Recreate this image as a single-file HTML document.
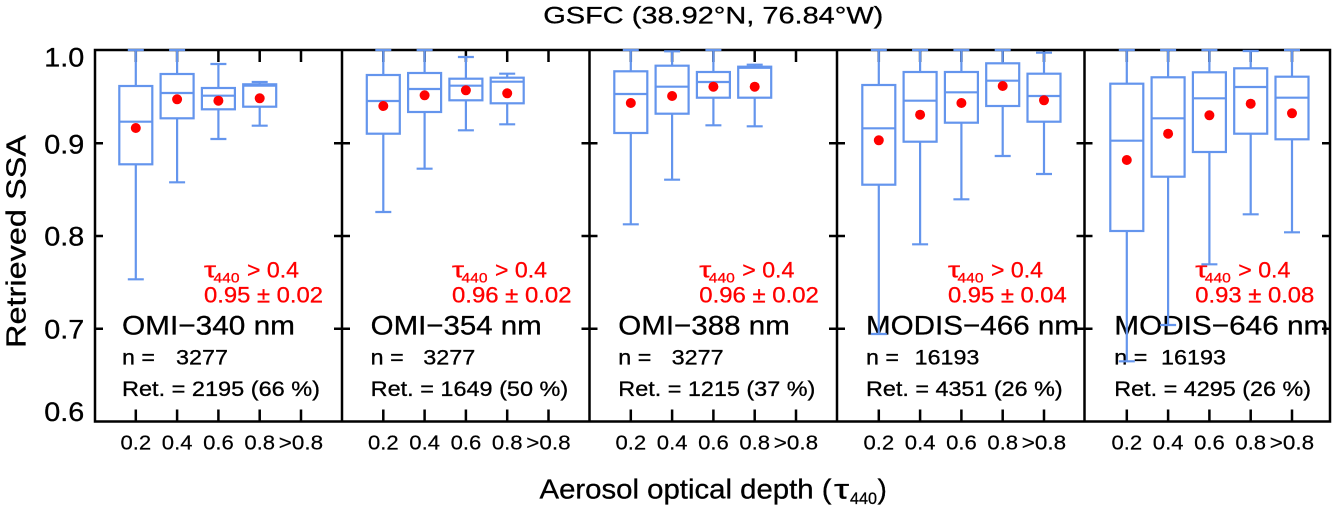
<!DOCTYPE html>
<html><head><meta charset="utf-8"><style>
html,body{margin:0;padding:0;background:#fff;}
svg{display:block;}
text{font-family:"Liberation Sans",Arial,sans-serif;}
</style></head><body>
<svg width="1336" height="512" viewBox="0 0 1336 512" xmlns="http://www.w3.org/2000/svg">
<rect width="1336" height="512" fill="#fff"/>
<!-- axes frame -->
<g stroke="#000" stroke-width="2.5" fill="none">
<rect x="95" y="50" width="1235" height="371.5"/>
<path d="M342 50V421.5M589.5 50V421.5M837 50V421.5M1084.5 50V421.5"/>
<path d="M95 143.3H103M95 236H103M95 328.7H103
M334 143.3H350M334 236H350M334 328.7H350
M581.5 143.3H597.5M581.5 236H597.5M581.5 328.7H597.5
M829 143.3H845M829 236H845M829 328.7H845
M1076.5 143.3H1092.5M1076.5 236H1092.5M1076.5 328.7H1092.5
M1322 143.3H1330M1322 236H1330M1322 328.7H1330"/>
<path d="M135.8 50V62M177.1 50V62M218.4 50V62M259.7 50V62M301 50V62
M383.3 50V62M424.6 50V62M465.9 50V62M507.2 50V62M548.5 50V62
M630.8 50V62M672.1 50V62M713.4 50V62M754.7 50V62M796 50V62
M878.8 50V62M920.1 50V62M961.4 50V62M1002.7 50V62M1044 50V62
M1126.8 50V62M1168.1 50V62M1209.4 50V62M1250.7 50V62M1292 50V62
M135.8 409.5V421.5M177.1 409.5V421.5M218.4 409.5V421.5M259.7 409.5V421.5M301 409.5V421.5
M383.3 409.5V421.5M424.6 409.5V421.5M465.9 409.5V421.5M507.2 409.5V421.5M548.5 409.5V421.5
M630.8 409.5V421.5M672.1 409.5V421.5M713.4 409.5V421.5M754.7 409.5V421.5M796 409.5V421.5
M878.8 409.5V421.5M920.1 409.5V421.5M961.4 409.5V421.5M1002.7 409.5V421.5M1044 409.5V421.5
M1126.8 409.5V421.5M1168.1 409.5V421.5M1209.4 409.5V421.5M1250.7 409.5V421.5M1292 409.5V421.5"/>
</g>

<!-- panel text -->
<g fill="#000" stroke="#000" stroke-width="0.3">
<text x="122" y="334.3" font-size="27" textLength="173" lengthAdjust="spacingAndGlyphs">OMI−340 nm</text>
<text x="370.7" y="334.3" font-size="27" textLength="171" lengthAdjust="spacingAndGlyphs">OMI−354 nm</text>
<text x="618.3" y="334.3" font-size="27" textLength="171.5" lengthAdjust="spacingAndGlyphs">OMI−388 nm</text>
<text x="866" y="334.3" font-size="27" textLength="213" lengthAdjust="spacingAndGlyphs">MODIS−466 nm</text>
<text x="1114.3" y="334.3" font-size="27" textLength="214" lengthAdjust="spacingAndGlyphs">MODIS−646 nm</text>

<text x="122" y="364.5" font-size="21" textLength="33" lengthAdjust="spacingAndGlyphs">n =</text>
<text x="176" y="364.5" font-size="21" textLength="52" lengthAdjust="spacingAndGlyphs">3277</text>
<text x="370.7" y="364.5" font-size="21" textLength="33" lengthAdjust="spacingAndGlyphs">n =</text>
<text x="423.3" y="364.5" font-size="21" textLength="52" lengthAdjust="spacingAndGlyphs">3277</text>
<text x="618.3" y="364.5" font-size="21" textLength="33" lengthAdjust="spacingAndGlyphs">n =</text>
<text x="671.7" y="364.5" font-size="21" textLength="52" lengthAdjust="spacingAndGlyphs">3277</text>
<text x="866" y="364.5" font-size="21" textLength="33" lengthAdjust="spacingAndGlyphs">n =</text>
<text x="914.7" y="364.5" font-size="21" textLength="64.7" lengthAdjust="spacingAndGlyphs">16193</text>
<text x="1114.3" y="364.5" font-size="21" textLength="33" lengthAdjust="spacingAndGlyphs">n =</text>
<text x="1161" y="364.5" font-size="21" textLength="65" lengthAdjust="spacingAndGlyphs">16193</text>

<text x="122" y="396" font-size="21" textLength="198" lengthAdjust="spacingAndGlyphs">Ret. = 2195 (66 %)</text>
<text x="370.7" y="396" font-size="21" textLength="197.5" lengthAdjust="spacingAndGlyphs">Ret. = 1649 (50 %)</text>
<text x="618.3" y="396" font-size="21" textLength="197" lengthAdjust="spacingAndGlyphs">Ret. = 1215 (37 %)</text>
<text x="866" y="396" font-size="21" textLength="196.7" lengthAdjust="spacingAndGlyphs">Ret. = 4351 (26 %)</text>
<text x="1114.3" y="396" font-size="21" textLength="196.7" lengthAdjust="spacingAndGlyphs">Ret. = 4295 (26 %)</text>
</g>

<!-- red annotations -->
<g fill="#ff0000" stroke="#ff0000" stroke-width="0.3">
<text x="204" y="277.5" font-size="22" textLength="12" lengthAdjust="spacingAndGlyphs">τ</text>
<text x="213.5" y="282.5" font-size="14" textLength="26" lengthAdjust="spacingAndGlyphs">440</text>
<text x="247" y="277.5" font-size="22" textLength="52" lengthAdjust="spacingAndGlyphs">&gt; 0.4</text>
<text x="204" y="302.5" font-size="22" textLength="119" lengthAdjust="spacingAndGlyphs">0.95 ± 0.02</text>

<text x="452" y="277.5" font-size="22" textLength="12" lengthAdjust="spacingAndGlyphs">τ</text>
<text x="461.5" y="282.5" font-size="14" textLength="26" lengthAdjust="spacingAndGlyphs">440</text>
<text x="495" y="277.5" font-size="22" textLength="52" lengthAdjust="spacingAndGlyphs">&gt; 0.4</text>
<text x="452" y="302.5" font-size="22" textLength="119.5" lengthAdjust="spacingAndGlyphs">0.96 ± 0.02</text>

<text x="699.3" y="277.5" font-size="22" textLength="12" lengthAdjust="spacingAndGlyphs">τ</text>
<text x="708.8" y="282.5" font-size="14" textLength="26" lengthAdjust="spacingAndGlyphs">440</text>
<text x="742.3" y="277.5" font-size="22" textLength="52" lengthAdjust="spacingAndGlyphs">&gt; 0.4</text>
<text x="699.3" y="302.5" font-size="22" textLength="119.5" lengthAdjust="spacingAndGlyphs">0.96 ± 0.02</text>

<text x="948" y="277.5" font-size="22" textLength="12" lengthAdjust="spacingAndGlyphs">τ</text>
<text x="957.5" y="282.5" font-size="14" textLength="26" lengthAdjust="spacingAndGlyphs">440</text>
<text x="991" y="277.5" font-size="22" textLength="52" lengthAdjust="spacingAndGlyphs">&gt; 0.4</text>
<text x="948" y="302.5" font-size="22" textLength="118.7" lengthAdjust="spacingAndGlyphs">0.95 ± 0.04</text>

<text x="1195.3" y="277.5" font-size="22" textLength="12" lengthAdjust="spacingAndGlyphs">τ</text>
<text x="1204.8" y="282.5" font-size="14" textLength="26" lengthAdjust="spacingAndGlyphs">440</text>
<text x="1238.3" y="277.5" font-size="22" textLength="52" lengthAdjust="spacingAndGlyphs">&gt; 0.4</text>
<text x="1195.3" y="302.5" font-size="22" textLength="119" lengthAdjust="spacingAndGlyphs">0.93 ± 0.08</text>
</g>

<!-- boxes -->
<g stroke="#6495ED" stroke-width="2.2" fill="none">
<path d="M135.8 50V86M135.8 164.3V279.3M127.8 50H143.8M127.8 279.3H143.8M119.3 121.7H152.3"/><rect x="119.3" y="86" width="33" height="78.3"/>
<path d="M177.1 50V74M177.1 118.3V182.3M169.1 50H185.1M169.1 182.3H185.1M160.6 93H193.6"/><rect x="160.6" y="74" width="33" height="44.3"/>
<path d="M218.4 64V88M218.4 109.3V139M210.4 64H226.4M210.4 139H226.4M201.9 95.7H234.9"/><rect x="201.9" y="88" width="33" height="21.3"/>
<path d="M259.7 82V84.3M259.7 106.7V125.7M251.7 82H267.7M251.7 125.7H267.7M243.2 85.7H276.2"/><rect x="243.2" y="84.3" width="33" height="22.4"/>
<path d="M383.3 50V75M383.3 133.7V212M375.3 50H391.3M375.3 212H391.3M366.8 101H399.8"/><rect x="366.8" y="75" width="33" height="58.7"/>
<path d="M424.6 50V73M424.6 112V168.7M416.6 50H432.6M416.6 168.7H432.6M408.1 89H441.1"/><rect x="408.1" y="73" width="33" height="39"/>
<path d="M465.9 57V78.7M465.9 100.3V130.3M457.9 57H473.9M457.9 130.3H473.9M449.4 85.7H482.4"/><rect x="449.4" y="78.7" width="33" height="21.6"/>
<path d="M507.2 73.7V77.7M507.2 103.3V124.3M499.2 73.7H515.2M499.2 124.3H515.2M490.7 81.7H523.7"/><rect x="490.7" y="77.7" width="33" height="25.6"/>
<path d="M630.8 50V71.3M630.8 133V224.3M622.8 50H638.8M622.8 224.3H638.8M614.3 94H647.3"/><rect x="614.3" y="71.3" width="33" height="61.7"/>
<path d="M672.1 51.3V65.7M672.1 113.7V179.7M664.1 51.3H680.1M664.1 179.7H680.1M655.6 86.7H688.6"/><rect x="655.6" y="65.7" width="33" height="48"/>
<path d="M713.4 50V72M713.4 97.7V125.3M705.4 50H721.4M705.4 125.3H721.4M696.9 82H729.9"/><rect x="696.9" y="72" width="33" height="25.7"/>
<path d="M754.7 64.7V66.7M754.7 97.7V126.3M746.7 64.7H762.7M746.7 126.3H762.7M738.2 67.8H771.2"/><rect x="738.2" y="66.7" width="33" height="31"/>
<path d="M878.8 50V85M878.8 184.7V334M870.8 50H886.8M870.8 334H886.8M862.3 128.3H895.3"/><rect x="862.3" y="85" width="33" height="99.7"/>
<path d="M920.1 50V72M920.1 141.7V244.3M912.1 50H928.1M912.1 244.3H928.1M903.6 100.7H936.6"/><rect x="903.6" y="72" width="33" height="69.7"/>
<path d="M961.4 50V72M961.4 122.7V199.3M953.4 50H969.4M953.4 199.3H969.4M944.9 92.3H977.9"/><rect x="944.9" y="72" width="33" height="50.7"/>
<path d="M1002.7 50V63.3M1002.7 106V156M994.7 50H1010.7M994.7 156H1010.7M986.2 80.7H1019.2"/><rect x="986.2" y="63.3" width="33" height="42.7"/>
<path d="M1044 52.7V73.7M1044 121.7V174M1036 52.7H1052M1036 174H1052M1027.5 96H1060.5"/><rect x="1027.5" y="73.7" width="33" height="48"/>
<path d="M1126.8 50V83.7M1126.8 231V361.3M1118.8 50H1134.8M1118.8 361.3H1134.8M1110.3 140.7H1143.3"/><rect x="1110.3" y="83.7" width="33" height="147.3"/>
<path d="M1168.1 50V77.3M1168.1 176.7V325M1160.1 50H1176.1M1160.1 325H1176.1M1151.6 118.3H1184.6"/><rect x="1151.6" y="77.3" width="33" height="99.4"/>
<path d="M1209.4 50V72.3M1209.4 152V264.3M1201.4 50H1217.4M1201.4 264.3H1217.4M1192.9 98.3H1225.9"/><rect x="1192.9" y="72.3" width="33" height="79.7"/>
<path d="M1250.7 51V68.3M1250.7 133.7V214.3M1242.7 51H1258.7M1242.7 214.3H1258.7M1234.2 87H1267.2"/><rect x="1234.2" y="68.3" width="33" height="65.4"/>
<path d="M1292 50V76.7M1292 139.3V232.3M1284 50H1300M1284 232.3H1300M1275.5 97.7H1308.5"/><rect x="1275.5" y="76.7" width="33" height="62.6"/>
</g>

<!-- means -->
<g fill="#ff0000">
<circle cx="135.8" cy="128" r="5"/><circle cx="177.1" cy="99.3" r="5"/><circle cx="218.4" cy="100.7" r="5"/><circle cx="259.7" cy="98.3" r="5"/>
<circle cx="383.3" cy="106" r="5"/><circle cx="424.6" cy="95.3" r="5"/><circle cx="465.9" cy="90.3" r="5"/><circle cx="507.2" cy="93.3" r="5"/>
<circle cx="630.8" cy="103" r="5"/><circle cx="672.1" cy="96" r="5"/><circle cx="713.4" cy="86.7" r="5"/><circle cx="754.7" cy="86.7" r="5"/>
<circle cx="878.8" cy="140.3" r="5"/><circle cx="920.1" cy="114.7" r="5"/><circle cx="961.4" cy="103" r="5"/><circle cx="1002.7" cy="86" r="5"/><circle cx="1044" cy="100.3" r="5"/>
<circle cx="1126.8" cy="160" r="5"/><circle cx="1168.1" cy="133.7" r="5"/><circle cx="1209.4" cy="115.3" r="5"/><circle cx="1250.7" cy="103.7" r="5"/><circle cx="1292" cy="113.3" r="5"/>
</g>

<!-- y tick labels -->
<g fill="#000" stroke="#000" stroke-width="0.3" font-size="26.5">
<text x="44.3" y="66.5" textLength="40" lengthAdjust="spacingAndGlyphs">1.0</text>
<text x="44.3" y="153.5" textLength="40" lengthAdjust="spacingAndGlyphs">0.9</text>
<text x="44.3" y="245.5" textLength="40" lengthAdjust="spacingAndGlyphs">0.8</text>
<text x="44.3" y="338.5" textLength="40" lengthAdjust="spacingAndGlyphs">0.7</text>
<text x="44.3" y="421" textLength="40" lengthAdjust="spacingAndGlyphs">0.6</text>
</g>

<!-- x tick labels -->
<g fill="#000" stroke="#000" stroke-width="0.2" font-size="20">
<text x="120.5" y="449.5" textLength="30.7" lengthAdjust="spacingAndGlyphs">0.2</text>
<text x="161.8" y="449.5" textLength="30.7" lengthAdjust="spacingAndGlyphs">0.4</text>
<text x="203.1" y="449.5" textLength="30.7" lengthAdjust="spacingAndGlyphs">0.6</text>
<text x="244.4" y="449.5" textLength="30.7" lengthAdjust="spacingAndGlyphs">0.8</text>
<text x="278.8" y="449.5" textLength="44.3" lengthAdjust="spacingAndGlyphs">&gt;0.8</text>

<text x="368" y="449.5" textLength="30.7" lengthAdjust="spacingAndGlyphs">0.2</text>
<text x="409.3" y="449.5" textLength="30.7" lengthAdjust="spacingAndGlyphs">0.4</text>
<text x="450.6" y="449.5" textLength="30.7" lengthAdjust="spacingAndGlyphs">0.6</text>
<text x="491.9" y="449.5" textLength="30.7" lengthAdjust="spacingAndGlyphs">0.8</text>
<text x="526.3" y="449.5" textLength="44.3" lengthAdjust="spacingAndGlyphs">&gt;0.8</text>

<text x="615.5" y="449.5" textLength="30.7" lengthAdjust="spacingAndGlyphs">0.2</text>
<text x="656.8" y="449.5" textLength="30.7" lengthAdjust="spacingAndGlyphs">0.4</text>
<text x="698.1" y="449.5" textLength="30.7" lengthAdjust="spacingAndGlyphs">0.6</text>
<text x="739.4" y="449.5" textLength="30.7" lengthAdjust="spacingAndGlyphs">0.8</text>
<text x="773.8" y="449.5" textLength="44.3" lengthAdjust="spacingAndGlyphs">&gt;0.8</text>

<text x="863.5" y="449.5" textLength="30.7" lengthAdjust="spacingAndGlyphs">0.2</text>
<text x="904.8" y="449.5" textLength="30.7" lengthAdjust="spacingAndGlyphs">0.4</text>
<text x="946.1" y="449.5" textLength="30.7" lengthAdjust="spacingAndGlyphs">0.6</text>
<text x="987.4" y="449.5" textLength="30.7" lengthAdjust="spacingAndGlyphs">0.8</text>
<text x="1021.8" y="449.5" textLength="44.3" lengthAdjust="spacingAndGlyphs">&gt;0.8</text>

<text x="1111.5" y="449.5" textLength="30.7" lengthAdjust="spacingAndGlyphs">0.2</text>
<text x="1152.8" y="449.5" textLength="30.7" lengthAdjust="spacingAndGlyphs">0.4</text>
<text x="1194.1" y="449.5" textLength="30.7" lengthAdjust="spacingAndGlyphs">0.6</text>
<text x="1235.4" y="449.5" textLength="30.7" lengthAdjust="spacingAndGlyphs">0.8</text>
<text x="1269.8" y="449.5" textLength="44.3" lengthAdjust="spacingAndGlyphs">&gt;0.8</text>
</g>

<!-- titles -->
<g fill="#000" stroke="#000" stroke-width="0.3">
<text x="543.3" y="23.3" font-size="24.5" textLength="340" lengthAdjust="spacingAndGlyphs">GSFC (38.92°N, 76.84°W)</text>
<text transform="translate(25.5,348) rotate(-90)" x="0" y="0" font-size="28" textLength="213" lengthAdjust="spacingAndGlyphs">Retrieved SSA</text>
<text x="539.5" y="498.5" font-size="28" textLength="292" lengthAdjust="spacingAndGlyphs">Aerosol optical depth (</text>
<text x="834" y="498.5" font-size="28" textLength="15" lengthAdjust="spacingAndGlyphs">τ</text>
<text x="850" y="504" font-size="17" textLength="27" lengthAdjust="spacingAndGlyphs">440</text>
<text x="877.5" y="498.5" font-size="28">)</text>
</g>
</svg>
</body></html>
